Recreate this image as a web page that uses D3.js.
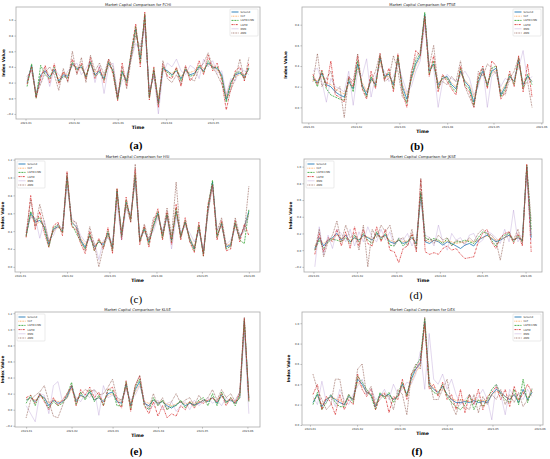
<!DOCTYPE html>
<html>
<head>
<meta charset="utf-8">
<script src="https://cdn.jsdelivr.net/npm/d3@7"></script>
<style>
  body { margin: 0; background: #fff; }
  svg { display: block; }
</style>
</head>
<body>
<svg id="chart" width="550" height="459"></svg>
<script>
// series shown in every panel
const seriesNames = ['Ground', 'CLT', 'LSTM-CNN', 'LSTM', 'RNN', 'ANN'];
const markets = ['FCHI', 'FTSE', 'HSI', 'JKSE', 'KLSE', 'DEX'];
const captions = ['(a)', '(b)', '(c)', '(d)', '(e)', '(f)'];
// first and last sample date of each panel (50 samples per series)
const dateRanges = [
    ['2023-01-02', '2023-05-24'],
    ['2023-01-04', '2023-05-26'],
    ['2023-01-05', '2023-06-01'],
    ['2023-01-02', '2023-06-05'],
    ['2023-01-01', '2023-06-02'],
    ['2023-01-03', '2023-05-27']
];

// FCHI
const fchiGround = [0.20,0.42,0.02,0.30,0.35,0.27,0.36,0.22,0.30,0.28, 0.44,0.38,0.40,0.28,0.45,0.30,0.35,0.25,0.45,0.35, 0.00,0.33,0.22,0.55,0.88,0.50,1.05,0.02,0.35,-0.05, 0.38,0.35,0.30,0.35,0.25,0.36,0.30,0.32,0.40,0.35, 0.45,0.40,0.38,0.30,-0.02,0.20,0.30,0.32,0.28,0.38];
const fchiCLT = [0.22,0.40,0.05,0.28,0.37,0.30,0.34,0.25,0.32,0.30, 0.42,0.40,0.38,0.30,0.43,0.33,0.36,0.28,0.42,0.36, 0.03,0.30,0.25,0.52,0.85,0.55,1.00,0.05,0.33,0.00, 0.36,0.33,0.32,0.36,0.28,0.34,0.33,0.35,0.42,0.38, 0.43,0.42,0.36,0.28,0.02,0.22,0.28,0.30,0.30,0.36];
const fchiLstmCnn = [0.15,0.44,0.00,0.42,0.30,0.25,0.40,0.20,0.28,0.26, 0.46,0.36,0.42,0.26,0.47,0.28,0.33,0.23,0.47,0.33, -0.02,0.35,0.20,0.58,0.92,0.45,1.08,0.00,0.38,-0.08, 0.40,0.33,0.28,0.38,0.22,0.38,0.28,0.30,0.42,0.33, 0.48,0.38,0.40,0.27,-0.05,0.18,0.32,0.34,0.25,0.40];
const fchiLstm = [0.18,0.40,0.00,0.25,0.42,0.20,0.44,0.18,0.34,0.22, 0.50,0.32,0.45,0.24,0.52,0.25,0.40,0.20,0.50,0.30, -0.03,0.45,0.15,0.60,0.95,0.40,1.10,-0.02,0.40,-0.12, 0.44,0.28,0.25,0.40,0.15,0.42,0.22,0.30,0.48,0.30, 0.55,0.35,0.45,0.22,-0.15,0.12,0.35,0.40,0.22,0.45];
const fchiRnn = [0.25,0.38,0.08,0.20,0.38,0.15,0.38,0.30,0.25,0.35, 0.40,0.45,0.30,0.38,0.48,0.20,0.42,0.06,0.40,0.45, 0.05,0.22,0.30,0.50,0.70,0.60,0.90,0.10,0.30,-0.20, 0.32,0.45,0.40,0.50,0.35,0.30,0.42,0.38,0.25,0.50, 0.40,0.48,0.32,0.35,0.05,0.25,0.22,0.38,0.35,0.30];
const fchiAnn = [0.28,0.35,0.05,0.18,0.33,0.40,0.30,0.10,0.38,0.20, 0.60,0.30,0.52,0.20,0.55,0.35,0.45,0.30,0.50,0.40, 0.02,0.40,0.12,0.50,0.80,0.65,0.95,0.08,0.28,-0.08, 0.48,0.25,0.20,0.30,0.18,0.40,0.25,0.22,0.38,0.45, 0.58,0.40,0.30,0.18,0.00,0.10,0.25,0.50,0.24,0.52];

// FTSE
const ftseGround = [0.28,0.24,0.33,0.22,0.20,0.15,0.12,0.10,0.25,0.18, 0.42,0.22,0.12,0.28,0.22,0.48,0.30,0.32,0.22,0.48, 0.20,0.08,0.28,0.42,0.50,0.90,0.35,0.42,0.22,0.28, 0.30,0.22,0.18,0.35,0.25,0.20,0.05,0.25,0.35,0.22, 0.35,0.38,0.12,0.20,0.30,0.25,0.45,0.22,0.30,0.25];
const ftseCLT = [0.26,0.26,0.30,0.24,0.22,0.18,0.15,0.13,0.22,0.20, 0.38,0.24,0.16,0.26,0.24,0.44,0.30,0.30,0.24,0.45, 0.22,0.12,0.26,0.40,0.48,0.85,0.38,0.40,0.24,0.27, 0.29,0.24,0.20,0.33,0.26,0.22,0.10,0.24,0.33,0.24, 0.33,0.36,0.15,0.22,0.28,0.26,0.42,0.24,0.28,0.26];
const ftseLstmCnn = [0.30,0.20,0.35,0.18,0.12,0.10,0.08,0.07,0.28,0.15, 0.45,0.20,0.10,0.30,0.20,0.50,0.28,0.34,0.18,0.50, 0.16,0.04,0.30,0.45,0.52,0.92,0.32,0.45,0.18,0.30, 0.28,0.20,0.15,0.38,0.22,0.18,0.02,0.28,0.38,0.20, 0.38,0.40,0.10,0.18,0.32,0.22,0.48,0.18,0.32,0.22];
const ftseLstm = [0.32,0.22,0.36,0.20,0.45,0.12,0.10,0.05,0.30,0.20, 0.50,0.18,0.08,0.35,0.18,0.52,0.26,0.38,0.15,0.52, 0.15,0.00,0.32,0.55,0.50,0.88,0.30,0.50,0.15,0.32, 0.25,0.18,0.12,0.40,0.20,0.15,0.00,0.30,0.40,0.18, 0.45,0.40,0.08,0.15,0.35,0.20,0.50,0.15,0.42,0.10];
const ftseRnn = [0.35,0.38,0.25,0.05,0.28,0.20,0.18,0.15,0.35,0.02, 0.35,0.30,0.47,0.10,0.30,0.40,0.35,0.25,0.30,0.42, 0.28,0.15,0.20,0.35,0.45,0.80,0.40,0.38,0.00,0.25, 0.32,0.28,0.25,0.30,0.35,0.28,0.12,0.20,0.38,0.00, 0.30,0.35,0.20,0.28,0.25,0.30,0.38,0.55,0.25,0.30];
const ftseAnn = [0.25,0.52,0.20,0.28,0.35,0.15,0.20,-0.10,0.30,0.25, 0.52,0.20,0.15,0.25,0.35,0.52,0.25,0.28,0.50,0.35, 0.10,0.05,0.35,0.48,0.55,0.88,0.40,0.60,0.20,0.25, 0.22,0.30,0.25,0.45,0.20,0.10,0.00,0.35,0.30,0.42, 0.38,0.32,0.15,0.12,0.28,0.35,0.48,0.20,0.25,0.00];

// HSI
const hsiGround = [0.35,0.60,0.50,0.52,0.45,0.25,0.42,0.45,0.40,1.00, 0.50,0.45,0.30,0.22,0.35,0.22,0.28,0.25,0.38,0.22, 0.85,0.35,0.72,0.55,1.00,0.30,0.42,0.28,0.45,0.60, 0.35,0.58,0.30,0.62,0.35,0.50,0.32,0.20,0.45,0.15, 0.65,0.95,0.35,0.48,0.22,0.25,0.48,0.32,0.45,0.62];
const hsiCLT = [0.36,0.58,0.48,0.50,0.46,0.28,0.40,0.44,0.42,0.95, 0.52,0.44,0.32,0.25,0.34,0.24,0.28,0.27,0.36,0.24, 0.80,0.36,0.70,0.56,0.96,0.32,0.40,0.30,0.44,0.58, 0.36,0.56,0.32,0.60,0.36,0.48,0.33,0.22,0.44,0.17, 0.62,0.92,0.36,0.46,0.24,0.26,0.46,0.33,0.44,0.60];
const hsiLstmCnn = [0.34,0.62,0.52,0.55,0.43,0.22,0.44,0.47,0.38,1.02, 0.48,0.38,0.28,0.20,0.37,0.18,0.30,0.22,0.40,0.18, 0.87,0.33,0.75,0.52,1.04,0.28,0.44,0.25,0.47,0.62, 0.32,0.60,0.28,0.66,0.33,0.52,0.30,0.18,0.47,0.12, 0.67,0.97,0.33,0.50,0.20,0.23,0.50,0.30,0.26,0.64];
const hsiLstm = [0.33,0.80,0.42,0.62,0.38,0.22,0.46,0.50,0.35,1.07, 0.45,0.42,0.26,0.15,0.40,0.18,0.32,0.20,0.44,0.15, 0.88,0.30,0.78,0.50,1.10,0.25,0.46,0.22,0.50,0.65, 0.30,0.62,0.25,0.70,0.30,0.55,0.28,0.16,0.50,0.12, 0.70,0.92,0.30,0.52,0.18,0.20,0.52,0.28,0.48,0.35];
const hsiRnn = [0.40,0.55,0.55,0.32,0.52,0.30,0.35,0.48,0.42,0.90, 0.55,0.48,0.35,0.28,0.30,0.28,0.08,0.30,0.32,0.28, 0.70,0.30,0.65,0.60,0.95,0.35,0.38,0.32,0.40,0.55, 0.40,0.55,0.20,0.55,0.40,0.45,0.38,0.28,0.40,0.20, 0.60,0.90,0.42,0.45,0.25,0.30,0.42,0.36,0.40,0.58];
const hsiAnn = [0.38,0.75,0.45,0.70,0.50,0.28,0.40,0.48,0.42,1.05, 0.52,0.50,0.30,0.18,0.45,0.25,0.00,0.22,0.35,0.20, 0.80,0.40,0.68,0.50,1.15,0.28,0.48,0.30,0.55,0.58, 0.38,0.66,0.35,0.95,0.32,0.50,0.28,0.22,0.42,0.15, 0.60,0.92,0.40,0.55,0.25,0.22,0.55,0.35,0.40,0.90];

// JKSE
const jkseGround = [0.02,0.15,0.05,0.12,0.15,0.20,0.12,0.18,0.10,0.15, 0.12,0.18,0.15,0.12,0.20,0.15,0.18,0.10,0.08,0.12, 0.08,0.10,0.15,0.08,0.68,0.10,0.08,0.12,0.10,0.06, 0.10,0.08,0.05,0.02,0.06,0.08,0.05,0.12,0.15,0.18, 0.14,0.10,0.12,0.15,0.18,0.12,0.15,0.12,1.00,0.15];
const jkseCLT = [0.05,0.14,0.08,0.12,0.14,0.18,0.14,0.16,0.12,0.14, 0.13,0.16,0.16,0.13,0.18,0.16,0.16,0.12,0.10,0.12, 0.10,0.11,0.14,0.10,0.65,0.12,0.10,0.12,0.11,0.10, 0.11,0.10,0.08,0.09,0.10,0.12,0.09,0.13,0.15,0.17, 0.15,0.12,0.13,0.15,0.17,0.13,0.15,0.13,0.95,0.18];
const jkseLstmCnn = [0.00,0.12,0.02,0.10,0.13,0.12,0.10,0.15,0.08,0.18, 0.10,0.20,0.12,0.08,0.22,0.12,0.20,0.06,0.05,0.14, 0.05,0.10,0.18,0.05,0.70,0.15,0.12,0.14,0.12,0.08, 0.14,0.06,0.10,0.10,0.12,0.10,0.08,0.15,0.22,0.20, 0.12,0.05,0.14,0.18,0.20,0.10,0.18,0.10,1.02,0.25];
const jkseLstm = [-0.05,0.20,-0.02,0.15,0.10,0.25,0.05,0.22,0.02,0.28, 0.05,0.25,0.08,0.05,0.28,0.10,0.25,0.00,-0.02,-0.15, 0.02,0.05,0.20,-0.02,0.85,-0.02,-0.05,-0.03,-0.05,0.02, 0.05,0.00,0.02,-0.05,-0.10,-0.09,-0.08,0.10,0.20,0.25, 0.10,0.02,0.15,0.20,0.22,0.08,0.20,0.05,1.03,-0.02];
const jkseRnn = [-0.20,0.28,-0.05,0.18,0.02,0.25,0.20,0.10,0.25,0.05, 0.22,0.10,0.28,0.15,0.10,0.25,0.12,0.22,0.05,0.15, 0.12,0.20,0.05,0.15,0.60,0.18,0.15,0.05,0.30,0.10, 0.00,0.20,0.12,0.15,0.05,0.18,0.20,0.08,0.12,0.22, 0.20,0.15,0.08,0.25,0.10,0.48,0.10,0.18,0.90,0.10];
const jkseAnn = [0.00,0.25,-0.08,0.10,0.18,0.35,0.10,0.30,0.15,0.20, 0.00,0.30,-0.20,0.25,0.15,0.30,0.22,0.30,0.08,0.12, 0.15,0.05,0.25,0.00,0.86,0.10,0.15,0.08,0.18,0.12, 0.15,0.05,0.12,0.10,0.08,0.15,0.10,0.20,0.25,0.20, 0.18,0.12,-0.12,0.15,0.22,0.12,0.25,0.08,1.00,0.35];

// KLSE
const klseGround = [0.12,0.15,0.10,0.18,0.15,0.05,0.12,0.08,0.10,0.15, 0.30,0.10,0.18,0.15,0.22,0.12,0.15,0.10,0.20,0.22, 0.10,0.08,0.32,0.05,0.25,0.35,0.08,0.05,0.12,0.08, 0.10,0.05,0.02,0.06,0.10,0.05,0.08,0.06,0.08,0.12, 0.10,0.15,0.08,0.18,0.10,0.12,0.08,0.15,1.10,0.15];
const klseCLT = [0.13,0.14,0.12,0.16,0.15,0.08,0.13,0.10,0.11,0.14, 0.26,0.12,0.17,0.15,0.20,0.13,0.15,0.12,0.18,0.20, 0.12,0.10,0.28,0.08,0.22,0.32,0.10,0.08,0.12,0.09, 0.10,0.07,0.05,0.07,0.10,0.07,0.09,0.08,0.09,0.12, 0.11,0.14,0.10,0.16,0.11,0.12,0.10,0.14,1.05,0.14];
const klseLstmCnn = [0.08,0.18,0.05,0.20,0.12,0.02,0.10,0.05,0.08,0.18, 0.34,0.06,0.22,0.12,0.25,0.10,0.18,0.05,0.25,0.24, 0.05,0.05,0.35,0.00,0.28,0.38,0.05,0.00,0.15,0.05, 0.12,0.00,0.04,0.05,0.12,0.02,0.10,0.04,0.12,0.15, 0.05,0.20,0.05,0.22,0.08,0.15,0.05,0.18,1.12,0.10];
const klseLstm = [0.15,0.18,0.08,0.20,0.10,0.00,0.15,0.05,0.12,0.20, 0.30,0.05,0.25,0.18,0.28,0.15,0.22,0.05,0.25,0.28, 0.12,0.02,0.36,-0.02,0.30,0.42,0.05,-0.05,0.10,-0.08, 0.05,-0.10,-0.05,-0.08,0.05,0.00,0.10,0.02,0.10,0.08, 0.12,0.15,0.10,0.20,0.05,0.15,0.08,0.20,1.14,0.10];
const klseRnn = [0.05,-0.05,-0.15,0.20,0.18,-0.05,0.30,0.35,0.10,0.18, 0.28,0.15,0.10,0.20,0.15,0.25,-0.07,0.30,0.15,0.18, 0.15,0.10,0.25,0.12,0.18,0.30,0.10,0.00,0.05,0.12, 0.00,0.08,0.10,-0.02,0.05,0.10,0.00,0.12,0.05,0.10, 0.15,0.08,0.12,0.05,0.15,0.10,0.12,0.22,0.95,-0.05];
const klseAnn = [-0.10,0.12,0.18,0.22,0.30,0.10,-0.08,-0.10,0.05,0.20, 0.28,0.12,0.20,0.25,0.22,0.25,0.18,0.20,0.28,0.38, 0.15,0.12,0.28,0.05,0.30,0.43,0.10,0.02,0.20,0.05, 0.15,0.00,0.10,0.20,0.08,0.12,0.15,0.05,0.18,0.10, 0.15,0.25,0.12,0.25,0.15,0.20,0.10,0.22,1.15,0.12];

// DEX
const dexGround = [0.22,0.30,0.18,0.25,0.28,0.25,0.22,0.20,0.28,0.25, 0.45,0.40,0.32,0.30,0.18,0.30,0.28,0.30,0.25,0.28, 0.40,0.30,0.45,0.55,0.60,1.02,0.40,0.35,0.32,0.38, 0.30,0.25,0.22,0.22,0.23,0.22,0.24,0.22,0.23,0.22, 0.30,0.35,0.32,0.28,0.25,0.30,0.22,0.35,0.25,0.32];
const dexCLT = [0.25,0.28,0.20,0.26,0.27,0.26,0.24,0.22,0.27,0.26, 0.42,0.38,0.32,0.30,0.20,0.29,0.28,0.29,0.26,0.28, 0.38,0.30,0.42,0.52,0.58,0.98,0.42,0.36,0.33,0.36, 0.30,0.26,0.24,0.25,0.24,0.23,0.25,0.24,0.24,0.24, 0.30,0.33,0.31,0.28,0.26,0.30,0.24,0.33,0.27,0.30];
const dexLstmCnn = [0.20,0.32,0.15,0.22,0.30,0.22,0.18,0.18,0.30,0.22, 0.48,0.42,0.35,0.28,0.15,0.32,0.26,0.32,0.22,0.30, 0.42,0.28,0.48,0.58,0.65,1.05,0.38,0.32,0.30,0.40, 0.28,0.22,0.18,0.15,0.20,0.30,0.15,0.25,0.18,0.25, 0.35,0.40,0.30,0.25,0.22,0.35,0.20,0.45,0.22,0.35];
const dexLstm = [0.30,0.40,0.15,0.28,0.22,0.10,0.30,0.15,0.25,0.20, 0.50,0.35,0.28,0.35,0.15,0.28,0.32,0.12,0.28,0.25, 0.45,0.25,0.50,0.55,0.62,1.00,0.35,0.40,0.28,0.42, 0.25,0.30,0.15,0.35,0.12,0.30,0.20,0.35,0.15,0.28, 0.32,0.38,0.25,0.35,0.18,0.38,0.25,0.30,0.40,0.32];
const dexRnn = [0.28,0.20,0.43,0.22,0.30,0.18,0.35,0.25,0.20,0.30, 0.38,0.45,0.30,0.35,0.25,0.28,0.35,0.25,0.40,0.30, 0.35,0.42,0.40,0.50,0.72,0.35,0.90,0.45,0.40,0.50, 0.35,0.45,0.30,0.20,0.25,0.30,0.20,0.28,0.35,0.25, 0.05,0.40,0.30,0.10,0.35,0.28,0.30,0.25,0.35,0.28];
const dexAnn = [0.50,0.35,0.25,0.15,0.20,0.45,0.45,0.20,0.30,0.25, 0.55,0.60,0.30,0.38,0.20,0.25,0.30,0.28,0.15,0.35, 0.30,0.10,0.50,0.60,0.55,1.06,0.45,0.25,0.25,0.35, 0.45,0.20,0.10,0.25,0.18,0.15,0.30,0.12,0.28,0.20, 0.30,0.25,0.35,0.20,0.30,0.22,0.32,0.18,0.25,0.36];

const panelValues = [
    [fchiGround, fchiCLT, fchiLstmCnn, fchiLstm, fchiRnn, fchiAnn],
    [ftseGround, ftseCLT, ftseLstmCnn, ftseLstm, ftseRnn, ftseAnn],
    [hsiGround, hsiCLT, hsiLstmCnn, hsiLstm, hsiRnn, hsiAnn],
    [jkseGround, jkseCLT, jkseLstmCnn, jkseLstm, jkseRnn, jkseAnn],
    [klseGround, klseCLT, klseLstmCnn, klseLstm, klseRnn, klseAnn],
    [dexGround, dexCLT, dexLstmCnn, dexLstm, dexRnn, dexAnn]
];

// layout of each axes box in the figure and where its legend sits
const layout = [
    { x0: 16,  x1: 260, y0: 7,   y1: 119, legend: 'right', yLab: 11, cap: [136, 149], bold: true },
    { x0: 302, x1: 543, y0: 7,   y1: 123, legend: 'right', yLab: 15, cap: [417, 150], bold: true },
    { x0: 15,  x1: 260, y0: 159, y1: 272, legend: 'left',  yLab: 11, cap: [136, 303], bold: false },
    { x0: 304, x1: 542, y0: 159, y1: 272, legend: 'left',  yLab: 12, cap: [416, 299], bold: false },
    { x0: 15,  x1: 260, y0: 312, y1: 427, legend: 'left',  yLab: 11, cap: [136, 455], bold: true },
    { x0: 302, x1: 543, y0: 312, y1: 425, legend: 'right', yLab: 12, cap: [417, 455], bold: true }
];

const styles = [
    { color: '#1f77b4', width: 0.8, dash: null,              opacity: 1 },
    { color: '#ff7f0e', width: 0.75, dash: '0.8,0.8',        opacity: 0.85 },
    { color: '#2ca02c', width: 0.75, dash: '2,0.9',          opacity: 1 },
    { color: '#d62728', width: 0.75, dash: '2,0.8,0.6,0.8',  opacity: 1 },
    { color: '#9467bd', width: 0.75, dash: null,             opacity: 0.35 },
    { color: '#8c564b', width: 0.75, dash: '0.8,0.8',        opacity: 1 }
];

const svg = d3.select('#chart');
const font = 'DejaVu Sans, sans-serif';
const n = 50;

function padDomain(lo, hi) {
    const pad = (hi - lo) * 0.05;
    return [lo - pad, hi + pad];
}

panelValues.forEach((values, p) => {
    const box = layout[p];
    const start = new Date(dateRanges[p][0] + 'T00:00:00');
    const end = new Date(dateRanges[p][1] + 'T00:00:00');
    // sample dates, evenly spread over the panel's date range
    const dates = d3.range(n).map(i => new Date(+start + (end - start) * i / (n - 1)));

    const xd = padDomain(+start, +end);
    const x = d3.scaleTime().domain([new Date(xd[0]), new Date(xd[1])]).range([box.x0, box.x1]);
    const all = values.flat();
    const y = d3.scaleLinear().domain(padDomain(d3.min(all), d3.max(all))).range([box.y1, box.y0]);

    const g = svg.append('g');

    // y ticks every 0.2
    const yd = y.domain();
    const yTicks = d3.range(Math.ceil(yd[0] / 0.2 - 1e-9), Math.floor(yd[1] / 0.2 + 1e-9) + 1).map(k => +(k * 0.2).toFixed(1));

    const xAxis = d3.axisBottom(x)
        .tickValues(d3.timeMonth.range(x.domain()[0], x.domain()[1]).filter(d => d >= x.domain()[0]))
        .tickFormat(d3.timeFormat('%Y-%m'))
        .tickSize(1.5).tickPadding(1.2);
    const yAxis = d3.axisLeft(y)
        .tickValues(yTicks)
        .tickFormat(d3.format('.1f'))
        .tickSize(1.5).tickPadding(1.2);

    const xg = g.append('g').attr('transform', `translate(0,${box.y1})`).call(xAxis);
    const yg = g.append('g').attr('transform', `translate(${box.x0},0)`).call(yAxis);
    [xg, yg].forEach(a => {
        a.select('.domain').remove();
        a.selectAll('line').attr('stroke', '#444').attr('stroke-width', 0.4);
        a.selectAll('text').attr('font-size', 2.7).attr('font-family', font).attr('fill', '#333');
    });

    // lines
    values.forEach((vals, s) => {
        const st = styles[s];
        const line = d3.line().x((d, i) => x(dates[i])).y(d => y(d));
        g.append('path')
            .datum(vals)
            .attr('d', line)
            .attr('fill', 'none')
            .attr('stroke', st.color)
            .attr('stroke-width', st.width)
            .attr('stroke-opacity', st.opacity)
            .attr('stroke-dasharray', st.dash)
            .attr('stroke-linejoin', 'round');
    });

    // frame
    g.append('rect')
        .attr('x', box.x0).attr('y', box.y0)
        .attr('width', box.x1 - box.x0).attr('height', box.y1 - box.y0)
        .attr('fill', 'none').attr('stroke', '#aaa').attr('stroke-width', 0.8);

    // title and axis labels
    g.append('text')
        .attr('x', (box.x0 + box.x1) / 2).attr('y', box.y0 - 1.5)
        .attr('text-anchor', 'middle')
        .attr('font-family', font).attr('font-size', 3.7).attr('fill', '#222')
        .text('Market Capital Comparison for ' + markets[p]);
    g.append('text')
        .attr('x', (box.x0 + box.x1) / 2).attr('y', box.y1 + 9.5)
        .attr('text-anchor', 'middle')
        .attr('font-family', font).attr('font-size', 4.6).attr('font-weight', 'bold')
        .text('Time');
    g.append('text')
        .attr('transform', `translate(${box.x0 - box.yLab},${(box.y0 + box.y1) / 2}) rotate(-90)`)
        .attr('text-anchor', 'middle')
        .attr('font-family', font).attr('font-size', 4.2).attr('font-weight', 'bold')
        .text('Index Value');

    // legend
    const lw = 28, lh = 27;
    const lx = box.legend === 'right' ? box.x1 - lw - 2 : box.x0 + 2;
    const ly = box.y0 + 2;
    const leg = g.append('g').attr('transform', `translate(${lx},${ly})`);
    leg.append('rect')
        .attr('width', lw).attr('height', lh).attr('rx', 0.8)
        .attr('fill', '#fff').attr('fill-opacity', 0.8)
        .attr('stroke', '#ccc').attr('stroke-width', 0.4);
    seriesNames.forEach((name, s) => {
        const st = styles[s];
        const yy = 3 + s * 4.2;
        leg.append('line')
            .attr('x1', 1.5).attr('x2', 8.5).attr('y1', yy).attr('y2', yy)
            .attr('stroke', st.color).attr('stroke-width', st.width + 0.1)
            .attr('stroke-opacity', st.opacity)
            .attr('stroke-dasharray', st.dash);
        leg.append('text')
            .attr('x', 10.5).attr('y', yy + 0.9)
            .attr('font-family', font).attr('font-size', 2.6).attr('fill', '#333')
            .text(name);
    });

    // caption
    svg.append('text')
        .attr('x', box.cap[0]).attr('y', box.cap[1])
        .attr('text-anchor', 'middle')
        .attr('font-family', 'Liberation Serif, serif')
        .attr('font-size', 11)
        .attr('font-weight', box.bold ? 'bold' : 'normal')
        .text(captions[p]);
});
</script>
</body>
</html>
